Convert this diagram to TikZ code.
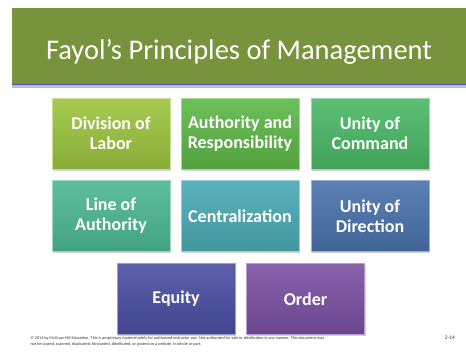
\documentclass[tikz,border=0pt]{standalone}
\usepackage{fontspec}
\setmainfont{Carlito}
\usetikzlibrary{shadows}

\definecolor{titlegreen}{HTML}{77933C}
\definecolor{labor}{HTML}{9CC43E}
\definecolor{resp}{HTML}{5DB848}
\definecolor{command}{HTML}{4BB866}
\definecolor{line}{HTML}{4CB893}
\definecolor{central}{HTML}{4AAAB5}
\definecolor{direction}{HTML}{4A72AC}
\definecolor{equity}{HTML}{4A4FA3}
\definecolor{order}{HTML}{7A50A2}

\tikzset{
  principle/.style={rectangle, minimum width=118pt, minimum height=71pt,
    top color=#1!90!white, bottom color=#1!88!black, draw=#1!55!white,
    line width=0.8pt, drop shadow={opacity=0.35, shadow xshift=1pt, shadow yshift=-1.5pt},
    text=white, align=center, inner sep=1pt, font=\bfseries\fontsize{18}{20}\selectfont},
  titletext/.style={text=white, font=\fontsize{28.5}{32}\selectfont}
}

\begin{document}
\begin{tikzpicture}[x=1pt, y=-1pt]
	    \useasboundingbox[fill=white] (0,0) rectangle (466,351);
	    
	    % title bar
	    \fill[black!25] (12,84) rectangle (466,88);
	    \fill[titlegreen] (12,8) rectangle (466,84);
	    \draw[blue!40!gray, line width=0.8pt] (12,84) -- (466,84);
	    \node[titletext] (title) at (239,52) {Fayol’s Principles of Management};
	    
	    % the eight principles
	    \foreach \name/\x/\y/\col/\txt in {
	        labor/111/133.5/labor/{Division of\\Labor},
	        resp/240/133.5/resp/{Authority and\\Responsibility},
	        cmd/370/133.5/command/{Unity of\\Command},
	        line/111/216/line/{Line of\\Authority},
	        cent/240/216/central/{Centralization},
	        dir/370/216/direction/{Unity of\\Direction},
	        eq/176/299/equity/{Equity},
	        ord/305.5/299/order/{Order}}
		\node[principle=\col] (\name) at (\x,\y) {\txt};
		
	    % footer
	    \node[anchor=west, font=\fontsize{4.2}{6}\selectfont, align=left, text=black!80] (copy) at (27,341.5)
	        {© 2014 by McGraw-Hill Education. This is proprietary material solely for authorized instructor use. Not authorized for sale or distribution in any manner. This document may\\
	         not be copied, scanned, duplicated, forwarded, distributed, or posted on a website, in whole or part.};
	    \node[font=\fontsize{5.5}{6}\selectfont, text=black!80] (page) at (450,338) {2-14};
	\end{tikzpicture}
\end{document}
